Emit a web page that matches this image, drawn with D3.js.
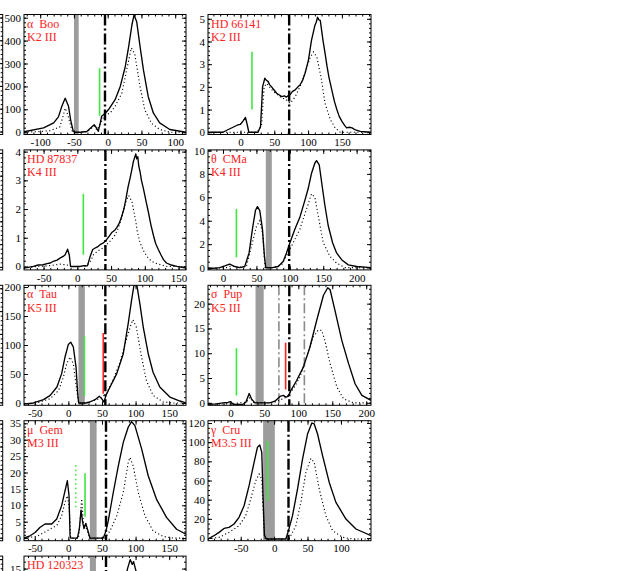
<!DOCTYPE html>
<html><head><meta charset="utf-8">
<script src="https://cdn.jsdelivr.net/npm/d3@7"></script>
<style>body{margin:0;background:#fff}svg{display:block}</style>
</head><body>
<svg id="c" width="628" height="571"></svg>
<script>
// ---------- data ----------
const starNames = ["α  Boo","HD 66141","HD 87837","θ  CMa","α  Tau","σ  Pup","μ  Gem","γ  Cru","HD 120323"];
const spTypes   = ["K2 III","K2 III","K4 III","K4 III","K5 III","K5 III","M3 III","M3.5 III",""];
const xDomains  = [[-124,116],[-48,193],[-79,161],[-22.5,221.5],[-66,175],[-33,207],[-66,175],[-99,145],[-66,175]];
const yDomains  = [[-10,514],[-0.1,5.19],[-0.12,4.06],[-0.2,10.05],[-4,203],[-0.5,23.7],[-0.8,35.8],[-2.8,122.4],[-0.5,16.8]];
const xTickStep = [50,50,50,50,50,50,50,50,50];
const yTickStep = [100,1,1,2,50,5,5,20,5];
const yMinorStep= [20,0.2,0.2,0.5,10,1,1,5,1];
const grayBands = [[-50,-43],null,null,[64,73],[15,24.5],[37,49],[32,42],[-16.5,1],[32,41]];
const dashDotX  = [-4,72,41.6,99,55,86.7,56,21.5,56];
const grayDashDotX = [[],[],[],[],[],[71.4,108.9],[],[],[]];
const greenLines = [[-12,72,279],[17,1.0,3.55],[8.9,0.41,2.53],[20,0.87,5.0],[23.8,11.5,115],[8.9,1.5,11],[24.8,6.5,19.8],[-9.5,39,101.6],null];
const greenDotted = [null,null,null,null,null,null,[10.9,9.4,23],null,null];
const redLines = [null,null,null,null,[51.9,16,120.7],[81.3,2.7,12.1],null,null,null];

const booSolid = [[-124,2],[-95,19],[-80,41],[-73,67],[-68,113],[-63,148],[-58,113],[-55,55],[-51,4],[-48,0],[-40,0],[-31,3],[-20,33],[-17,20],[-14,4],[-11,40],[-9,70],[-4,82],[1,98],[11,142],[18.6,200],[26,286],[31,373],[35.8,467],[39,512],[43,482],[48,373],[53,271],[60,156],[67.6,84],[77,41],[92,12],[116,0]];
const booDotted = [[-124,0],[-100,3],[-85,7],[-71,23],[-67,60],[-63,105],[-59,75],[-55,30],[-52,0],[-40,0],[-30,3],[-20,27],[-16,10],[-12,30],[-5,72],[3.7,84],[11,113],[21,171],[28,271],[35,368],[40,343],[48,198],[55,97],[65,39],[77,12],[92,0],[116,0]];

const hd66Solid = [[-48,0],[-26,0],[-18,0.12],[-11,0.22],[-3.5,0.33],[0,0.35],[4,0.5],[7.4,0.65],[10,0.33],[12.4,0],[26,0],[29.7,0.26],[32.7,2.0],[36,2.38],[38,2.3],[41,2.23],[43,2.1],[46,2.0],[50,1.85],[53.5,1.72],[57,1.65],[61,1.57],[65,1.6],[68,1.55],[70,1.6],[73,1.65],[77,1.8],[81,1.87],[85,2.0],[88,2.08],[92,2.3],[95.5,2.6],[100.5,3.18],[105,4.05],[110,4.7],[112,4.85],[114,5.07],[116,4.95],[118,4.93],[122,4.05],[125,3.5],[128,2.9],[131,2.4],[135,1.87],[139,1.35],[142.5,1.0],[146,0.7],[150,0.48],[154,0.3],[157,0.19],[161,0.22],[165,0.19],[170,0.1],[177,0.04],[193,0]];
const hd66Dotted = [[-48,0],[24,0],[31,0.26],[35,2.0],[38.6,2.15],[43,2.0],[48.5,1.8],[58,1.57],[68,1.43],[73,1.28],[77,1.4],[81,1.57],[88,2.0],[95.5,2.6],[103,3.3],[108,3.54],[113,3.3],[119,2.45],[125,1.28],[133,0.55],[140,0.19],[147.5,0],[193,0]];

const hd87Solid = [[-79,-0.06],[-65,0],[-58,0.05],[-50.5,0.06],[-45,0.1],[-40,0.12],[-35.6,0.18],[-30,0.22],[-25.7,0.29],[-21,0.35],[-18,0.41],[-14.4,0.6],[-12,0.41],[-10,0],[4,0],[10,0.03],[15,0.02],[19,0.35],[22.8,0.59],[27,0.65],[31,0.7],[35,0.78],[38.6,0.82],[43.6,0.94],[47,1.05],[51,1.18],[55,1.25],[58.4,1.35],[62,1.5],[66,1.76],[69,2.0],[72,2.35],[75,2.75],[78,3.06],[81,3.4],[83,3.65],[85,3.8],[86.6,3.92],[88,3.75],[89.6,3.82],[91,3.5],[93,3.29],[95,3.0],[98,2.7],[102,2.25],[105.4,1.88],[109,1.45],[113,1.06],[116,0.8],[120,0.59],[124,0.4],[127.7,0.24],[132,0.12],[137.6,0.06],[147.5,0],[161,-0.06]];
const hd87Dotted = [[-79,-0.06],[-60,0],[-40,0.03],[-25,0.08],[-15,0.05],[-10,0],[10,0],[15,0.06],[20,0.2],[24,0.41],[31,0.55],[38.6,0.65],[45,0.8],[51,0.94],[56,1.1],[61,1.35],[65,1.65],[68,1.94],[72,2.25],[76,2.47],[78,2.4],[81,2.24],[86,1.65],[89,1.2],[93,0.82],[98,0.55],[103,0.35],[109,0.2],[115,0.12],[125,0.05],[133,0],[161,0]];

const thetaSolid = [[-22.5,-0.1],[-5,0],[2.5,0.14],[10,0.3],[17.5,0.09],[25,0],[32.5,0.09],[39,1.25],[44,3.28],[48.5,4.87],[51.5,5.2],[55,4.87],[59,3.28],[62,0.96],[64,0],[74,0],[82.5,0.09],[90,0.52],[95,1.25],[100,2.1],[107.5,3.28],[115,4.29],[122.5,5.74],[127.5,6.75],[132.5,8.06],[137.5,8.93],[140,9.13],[144,8.78],[147.5,7.33],[152.5,5.3],[157.5,3.57],[164,2.12],[170,1.25],[177.5,0.67],[187.5,0.23],[200,0.09],[221.5,0]];
const thetaDotted = [[-22.5,-0.1],[5,0],[12.5,0.14],[22.5,0],[35,0.09],[42.5,1.8],[50,3.5],[55,4.0],[59,2.98],[63,0],[75,0],[87.5,0.23],[97.5,1.25],[105,2.1],[115,3.28],[125,5.0],[132.5,6.3],[137.5,6.0],[142.5,4.43],[150,2.12],[160,0.96],[170,0.38],[182.5,0],[221.5,0]];

const tauSolid = [[-66,-2],[-52,0],[-37,5.7],[-27,13],[-17,27.6],[-10,50.6],[-5,79.3],[0,101],[3.5,105],[7.4,96.6],[11.4,62],[13.9,16],[15.3,0],[26,0],[32,1.7],[39.6,5.7],[46,11.5],[49.5,7.5],[53,1.7],[56,13.2],[62,27.6],[72,50.6],[81.7,85],[89,136.8],[94,177],[98,206],[101.5,206],[106.4,171],[111.4,131],[118.8,85],[126,53],[136,27.6],[151,10.3],[166,3.4],[175,0]];
const tauDotted = [[-66,-2],[-47,0],[-27,7.5],[-14.4,21.8],[-7.4,44.8],[-2.5,67.8],[2.5,79.3],[7.4,67.8],[12.4,21.8],[15.3,0],[26,0],[46.5,7.5],[56.4,16],[66.3,39],[76,67.8],[86,108],[93.6,136.8],[96,143.7],[101,131],[108.9,79.3],[116,39],[126,13.2],[141,1.7],[156,0],[175,0]];

const pupSolid = [[-33,-0.3],[-20.7,-0.2],[-11,0],[-3.4,0.07],[0,0.25],[4,-0.3],[18.7,-0.3],[22.7,0.13],[27.6,1.9],[31,0.8],[36,0],[49,0],[58,0],[65.5,0.34],[73,1.28],[78,1.5],[81.8,1.15],[85,1.28],[87.7,2.15],[97.5,4.5],[107.4,7.2],[117,11.2],[127,16.6],[137,21.7],[143.3,23.2],[146.8,22.8],[154,18.6],[164,12.6],[174,7.9],[183.7,3.8],[193.6,1.5],[207,0.5]];
const pupDotted = [[-33,-0.3],[-1,-0.2],[23.6,0.13],[28.6,1.1],[33.5,0.1],[63,0],[82.8,1.15],[92.6,2.8],[102.5,5.2],[112,9.2],[122,13.3],[129.5,14.7],[134.5,14.6],[139,12.6],[146.8,7.9],[156.7,3.2],[166.5,0.8],[181,0],[207,0]];

const gemSolid = [[-66,0],[-57,0.7],[-49.5,1.7],[-42,3.3],[-34.6,4.3],[-24.8,4.3],[-17.3,5.8],[-10,9.9],[-5,14.4],[-1.5,17.5],[1,12.9],[2.5,0.7],[3.5,0],[13.4,0],[16.3,2.7],[18.8,8.5],[21.3,4.8],[23.3,2.9],[26,4.5],[29.2,2.2],[32,0],[52,0],[56,2.2],[59.4,5.3],[66.8,13.9],[74.3,22],[81.7,29.2],[89,33.8],[94,35.5],[99,34.3],[109,27.2],[118.8,19],[131,11.9],[146,6.3],[161,2.7],[175,1.2]];
const gemDotted = [[-66,0],[-47,0.5],[-32,2.2],[-17.3,3.8],[-10,6.8],[-5,10.9],[-1.5,12.9],[1,9.9],[3.5,0],[15,0],[17.3,4.8],[19.8,12],[22.3,4.8],[26,3.3],[32,0],[54.5,0],[62,2.2],[72,6.8],[81.7,13.9],[89,23],[91.6,24.6],[96.5,22],[104,13.9],[113.9,6.8],[126,2.2],[141,0.5],[156,0],[175,0]];

const cruSolid = [[-99,-1],[-90,2.4],[-82.5,5.9],[-75,10],[-67.5,11.1],[-60,14.6],[-52.5,21.6],[-45,33.7],[-37.5,54.6],[-30,79],[-25,94.6],[-21.5,97],[-18.5,89.4],[-16.5,40.7],[-14.5,2.4],[-11.5,-1],[17.5,-1],[21.5,7.7],[27.5,23.3],[35,51],[42.5,82.4],[50,108.5],[56.5,120],[60,119],[65,108.5],[72.5,85.9],[82.5,58],[92.5,37.2],[107.5,19.8],[122.5,9.4],[145,2.4]];
const cruDotted = [[-99,-1],[-82.5,0.7],[-67.5,5.9],[-52.5,12.9],[-42.5,23.3],[-35,40.7],[-27.5,59.8],[-22.5,66.8],[-18.5,61.6],[-15.5,12.9],[-13.5,-1],[22.5,-1],[32.5,12.9],[40,37.2],[47.5,68.5],[55,83],[60,79],[67.5,51],[77.5,23.3],[87.5,7.7],[102.5,0.7],[117.5,-1],[145,-1]];

const hd120Solid = [[-66,0],[0,4],[50,2],[70,7],[82,12],[88,15],[92,16.3],[95,15.6],[97,16.0],[101,14.5],[106,11],[120,5],[150,1],[175,0]];
const hd120Dotted = [[-66,0],[60,1],[85,8],[92,10],[100,8],[120,2],[175,0]];

const solidSeries  = [booSolid,hd66Solid,hd87Solid,thetaSolid,tauSolid,pupSolid,gemSolid,cruSolid,hd120Solid];
const dottedSeries = [booDotted,hd66Dotted,hd87Dotted,thetaDotted,tauDotted,pupDotted,gemDotted,cruDotted,hd120Dotted];

// ---------- layout ----------
const W = 628, H = 571;
const colLeft = [24, 208], colW = [162, 163];
const rowTop = r => 14.5 + r * 135.4;
const rowH = 120;
const FONT = "Liberation Serif, Times New Roman, serif";

const svg = d3.select("#c");
const defs = svg.append("defs");

function stepTicks(dom, step) {
  const out = [];
  const s = Math.ceil((dom[0] - 1e-9) / step);
  for (let k = s; k * step <= dom[1] + 1e-9; k++) out.push(+(k * step).toFixed(6));
  return out;
}

// far-left partial column (cut off by the window edge)
for (let r = 0; r < 5; r++) {
  const g = svg.append("g").attr("transform", `translate(0,${rowTop(r)})`);
  const h = rowH;
  g.append("rect").attr("x", -200).attr("y", 0).attr("width", 202.7).attr("height", h)
    .attr("fill", "none").attr("stroke", "#000").attr("stroke-width", 1);
  const ys = d3.scaleLinear().domain([0, 25]).range([h - 3, 3]);
  g.append("g").attr("transform", "translate(2.7,0)")
    .call(d3.axisRight(ys).tickValues(d3.range(0, 25.01, 1)).tickSize(-2).tickFormat(""))
    .call(a => a.select(".domain").remove());
  g.append("g").attr("transform", "translate(2.7,0)")
    .call(d3.axisRight(ys).tickValues(d3.range(0, 25.01, 5)).tickSize(-4).tickFormat(""))
    .call(a => a.select(".domain").remove());
}

const nPanels = starNames.length;
for (let i = 0; i < nPanels; i++) {
  const row = Math.floor(i / 2), col = i % 2;
  const w = colW[col], h = rowH, top = rowTop(row);
  const g = svg.append("g").attr("transform", `translate(${colLeft[col]},${top})`);
  const x = d3.scaleLinear().domain(xDomains[i]).range([0, w]);
  const y = d3.scaleLinear().domain(yDomains[i]).range([h, 0]);

  defs.append("clipPath").attr("id", "cp" + i).append("rect").attr("width", w).attr("height", h);
  const plot = g.append("g").attr("clip-path", `url(#cp${i})`);

  const band = grayBands[i];
  if (band) plot.append("rect").attr("x", x(band[0])).attr("y", 0)
    .attr("width", x(band[1]) - x(band[0])).attr("height", h).attr("fill", "#9c9c9c");

  grayDashDotX[i].forEach(v => plot.append("line").attr("x1", x(v)).attr("x2", x(v)).attr("y1", 0).attr("y2", h)
    .attr("stroke", "#8a8a8a").attr("stroke-width", 1.6).attr("stroke-dasharray", "10,3,2,3"));

  const line = d3.line().x(d => x(d[0])).y(d => y(d[1]));
  plot.append("path").datum(dottedSeries[i]).attr("d", line).attr("fill", "none")
    .attr("stroke", "#000").attr("stroke-width", 1.15).attr("stroke-dasharray", "1.1,2.5");
  plot.append("path").datum(solidSeries[i]).attr("d", line).attr("fill", "none")
    .attr("stroke", "#000").attr("stroke-width", 1.35).attr("stroke-linejoin", "round");

  const gl = greenLines[i];
  if (gl) plot.append("line").attr("x1", x(gl[0])).attr("x2", x(gl[0])).attr("y1", y(gl[1])).attr("y2", y(gl[2]))
    .attr("stroke", "#3ee83e").attr("stroke-width", 1.6);
  const gd = greenDotted[i];
  if (gd) plot.append("line").attr("x1", x(gd[0])).attr("x2", x(gd[0])).attr("y1", y(gd[1])).attr("y2", y(gd[2]))
    .attr("stroke", "#3ee83e").attr("stroke-width", 1.6).attr("stroke-dasharray", "1.5,3");
  const rl = redLines[i];
  if (rl) plot.append("line").attr("x1", x(rl[0])).attr("x2", x(rl[0])).attr("y1", y(rl[1])).attr("y2", y(rl[2]))
    .attr("stroke", "#f22").attr("stroke-width", 1.6);

  plot.append("line").attr("x1", x(dashDotX[i])).attr("x2", x(dashDotX[i])).attr("y1", 0).attr("y2", h)
    .attr("stroke", "#000").attr("stroke-width", 2.4).attr("stroke-dasharray", "11,3,2,3");

  // axes
  const xt = stepTicks(xDomains[i], xTickStep[i]);
  const xm = stepTicks(xDomains[i], xTickStep[i] / 5);
  const yt = stepTicks(yDomains[i], yTickStep[i]);
  const ym = stepTicks(yDomains[i], yMinorStep[i]);
  const ytLab = yt.filter(v => top + y(v) < H - 1);
  const strip = a => a.select(".domain").remove();
  const fmt = d => String(d);

  g.append("g").attr("transform", `translate(0,${h})`).call(d3.axisBottom(x).tickValues(xm).tickSize(-2).tickFormat("")).call(strip);
  g.append("g").call(d3.axisTop(x).tickValues(xm).tickSize(-2).tickFormat("")).call(strip);
  g.append("g").call(d3.axisTop(x).tickValues(xt).tickSize(-4).tickFormat("")).call(strip);
  g.append("g").call(d3.axisLeft(y).tickValues(ym).tickSize(-2).tickFormat("")).call(strip);
  g.append("g").call(d3.axisLeft(y).tickValues(yt).tickSize(-4).tickFormat("")).call(strip);
  g.append("g").attr("transform", `translate(${w},0)`).call(d3.axisRight(y).tickValues(ym).tickSize(-2).tickFormat("")).call(strip);
  g.append("g").attr("transform", `translate(${w},0)`).call(d3.axisRight(y).tickValues(yt).tickSize(-4).tickFormat("")).call(strip);

  const bx = g.append("g").attr("transform", `translate(0,${h})`)
    .call(d3.axisBottom(x).tickValues(top + h < H ? xt : []).tickSize(-4).tickPadding(4).tickFormat(fmt)).call(strip);
  bx.attr("font-family", FONT).attr("font-size", 11);
  const ly = g.append("g").call(d3.axisLeft(y).tickValues(ytLab).tickSize(0).tickPadding(3).tickFormat(fmt)).call(strip);
  ly.attr("font-family", FONT).attr("font-size", 11);

  g.append("rect").attr("width", w).attr("height", h).attr("fill", "none").attr("stroke", "#000").attr("stroke-width", 1);

  // labels
  g.append("text").attr("x", 3).attr("y", 13).attr("fill", "#f22").attr("font-family", FONT)
    .attr("font-size", 12).style("white-space", "pre").text(starNames[i]);
  if (spTypes[i]) g.append("text").attr("x", 3).attr("y", 26.5).attr("fill", "#f22").attr("font-family", FONT)
    .attr("font-size", 12).style("white-space", "pre").text(spTypes[i]);
}
</script>
</body></html>
